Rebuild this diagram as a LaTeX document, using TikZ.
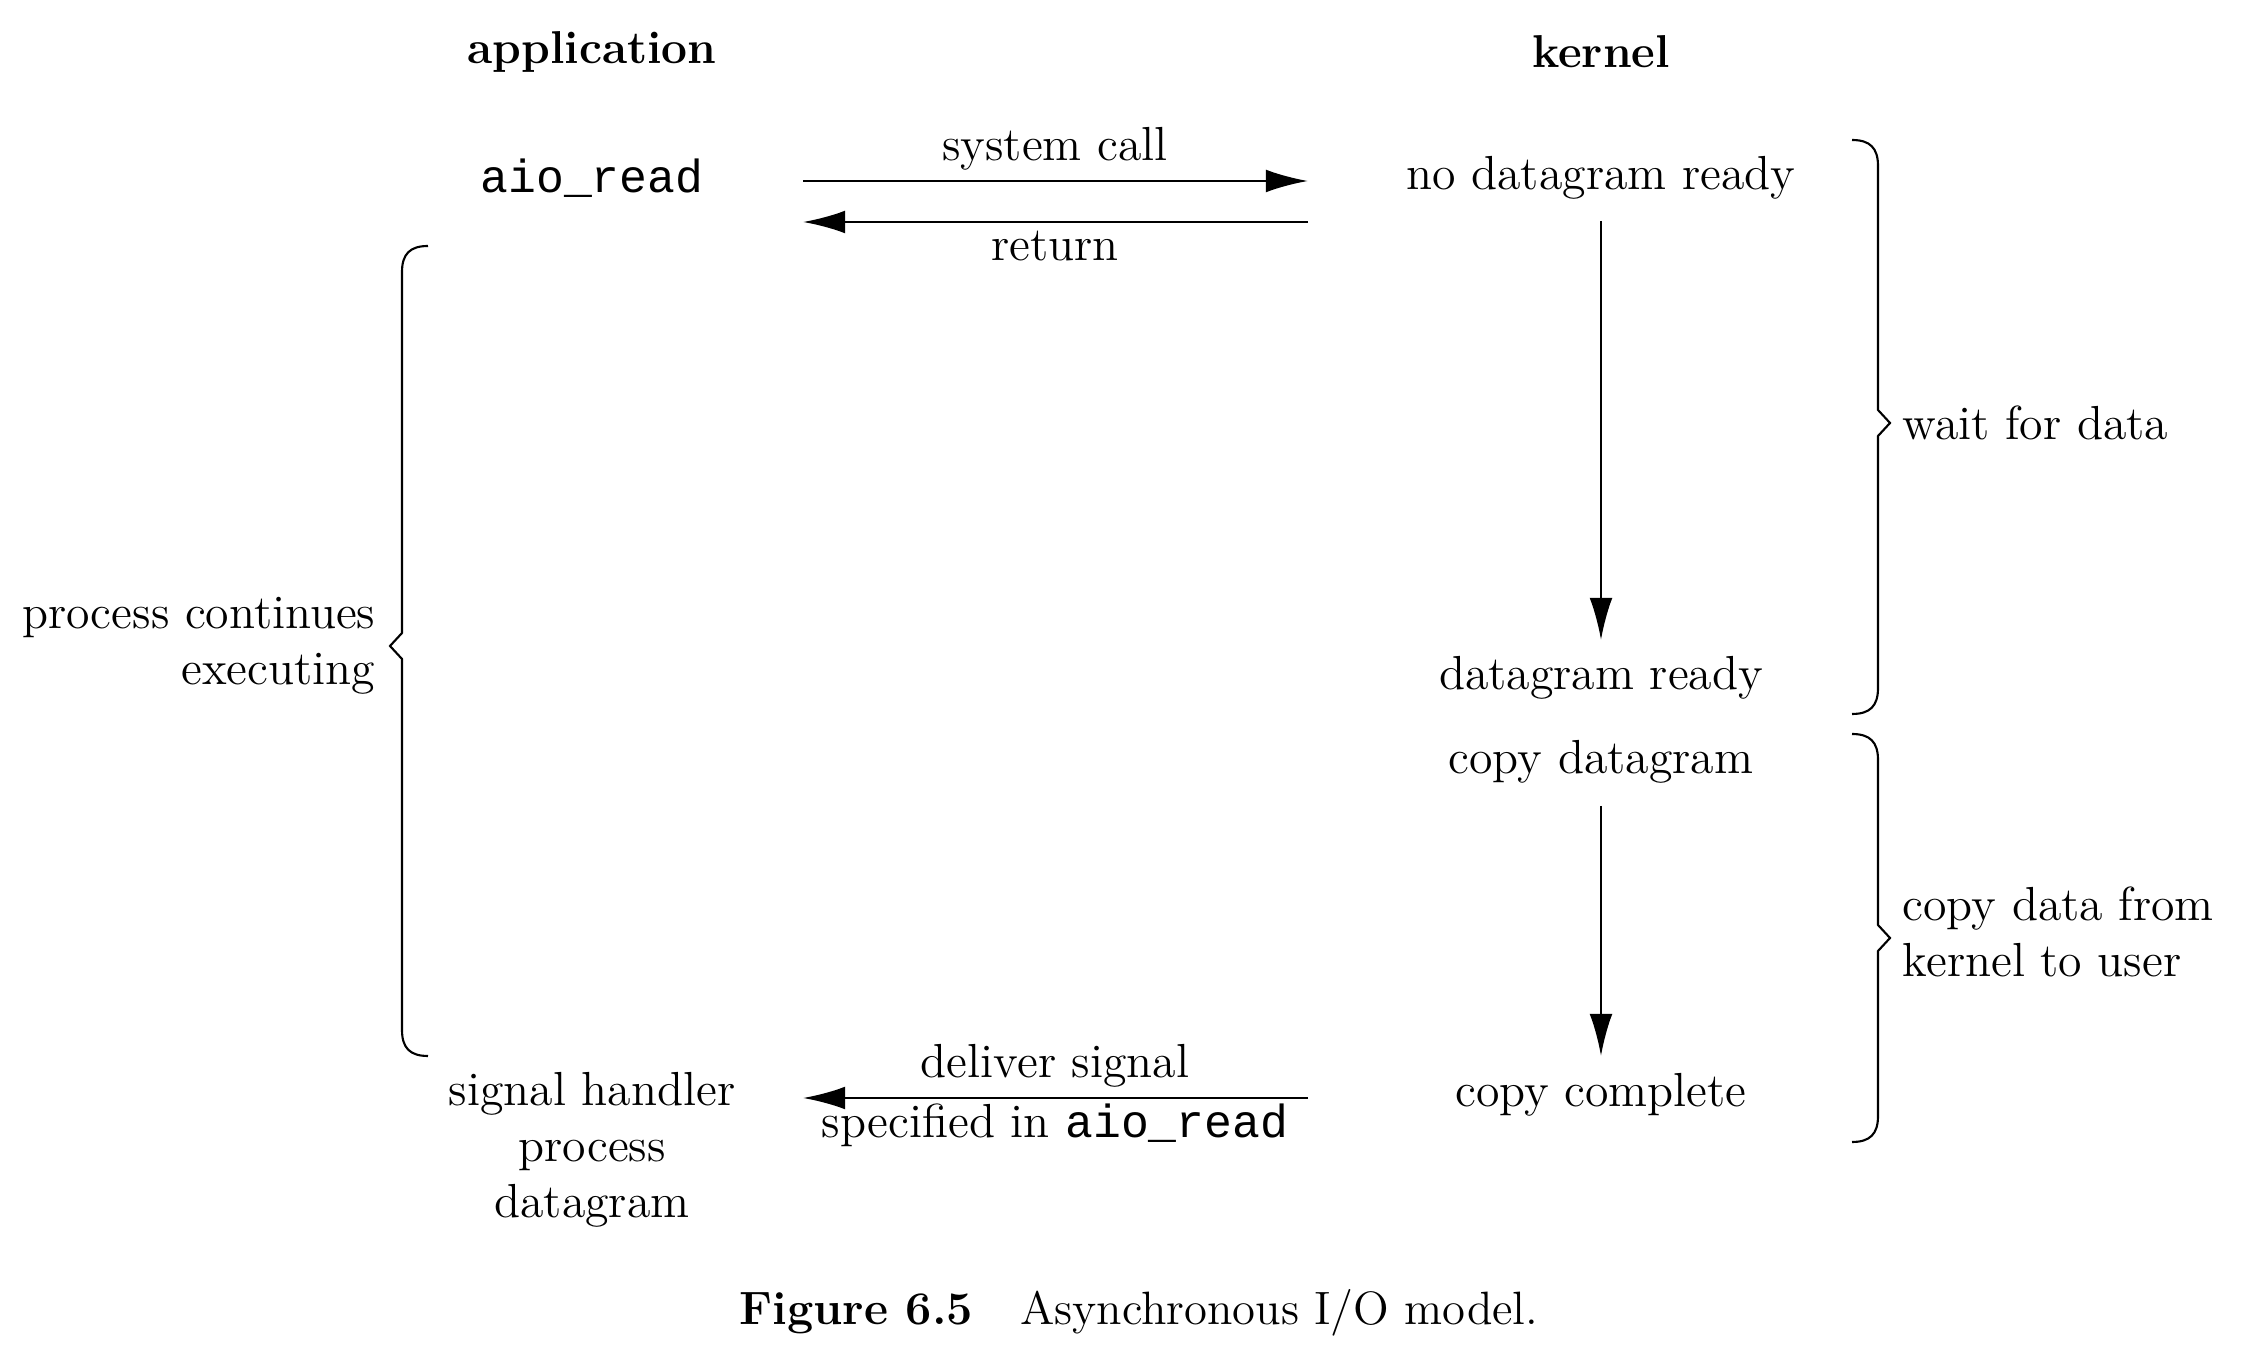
\documentclass[tikz,border=0pt]{standalone}
\usepackage{fontspec}
\setmonofont{Liberation Mono}[Scale=0.97]
\usetikzlibrary{arrows.meta}
\begin{document}
\begin{tikzpicture}[x=0.01cm,y=-0.01cm,
  txt/.style={inner sep=0pt,font=\fontsize{13.6}{16}\selectfont,align=center},
  hdr/.style={txt,font=\fontsize{13.1}{16}\selectfont\bfseries},
  arr/.style={line width=0.7pt,-{Latex[length=12pt,width=6.5pt]}},
  brc/.style={line width=0.6pt}]
\useasboundingbox (0,0) rectangle (2266,1368);
% headers
\node[hdr] (app) at (592,52) {application};
\node[hdr] (ker) at (1601,52) {kernel};
% application side
\node[txt] (aio) at (592,178) {\ttfamily aio\_read};
\node[txt] (sig) at (592,1150) {signal handler\\process\\datagram};
% kernel side
\node[txt] (nd) at (1601,178) {no datagram ready};
\node[txt] (dr) at (1601,678) {datagram ready};
\node[txt] (cd) at (1601,762) {copy datagram};
\node[txt] (cc) at (1601,1095) {copy complete};
% arrow end points
\coordinate (s1) at (803,181);
\coordinate (e1) at (1308,181);
\coordinate (s2) at (1308,222);
\coordinate (e2) at (803,222);
\coordinate (s3) at (1308,1098);
\coordinate (e3) at (803,1098);
\coordinate (v1a) at (1601,221);
\coordinate (v1b) at (1601,640);
\coordinate (v2a) at (1601,806);
\coordinate (v2b) at (1601,1056);
% arrows
\draw[arr] (s1) -- (e1);
\draw[arr] (s2) -- (e2);
\draw[arr] (s3) -- (e3);
\draw[arr] (v1a) -- (v1b);
\draw[arr] (v2a) -- (v2b);
% arrow labels
\node[txt] (lsc) at (1055,149) {system call};
\node[txt] (lret) at (1055,246) {return};
\node[txt] (ldel) at (1055,1066) {deliver signal};
\node[txt] (lspec) at (1055,1125) {specified in \texttt{aio\_read}};
% left brace
\draw[brc] (428,246) .. controls (410,246) and (402,254) .. (402,272)
  -- (402,633) -- (390,646) -- (402,659) -- (402,1030)
  .. controls (402,1048) and (410,1056) .. (428,1056);
\node[txt,align=right,anchor=east] (pce) at (376,646) {process continues\\executing};
% right brace 1
\draw[brc] (1852,140) .. controls (1870,140) and (1878,148) .. (1878,166)
  -- (1878,410) -- (1890,423) -- (1878,436) -- (1878,688)
  .. controls (1878,706) and (1870,714) .. (1852,714);
\node[txt,anchor=west] (wfd) at (1902,423) {wait for data};
% right brace 2
\draw[brc] (1852,734) .. controls (1870,734) and (1878,742) .. (1878,760)
  -- (1878,925) -- (1890,938) -- (1878,951) -- (1878,1116)
  .. controls (1878,1134) and (1870,1142) .. (1852,1142);
\node[txt,anchor=west,align=left] (cdf) at (1902,932) {copy data from\\kernel to user};
% caption
\node[txt,font=\fontsize{13.3}{16}\selectfont] (cap) at (1139,1313) {\textbf{Figure 6.5}\quad Asynchronous I/O model.};
\end{tikzpicture}
\end{document}
